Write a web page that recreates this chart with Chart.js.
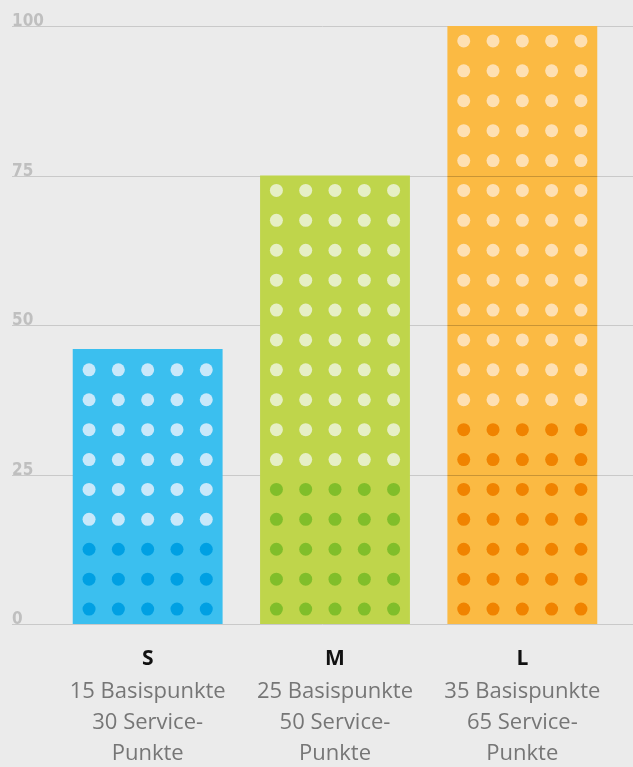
<!DOCTYPE html>
<html>
<head>
<meta charset="utf-8">
<script src="https://cdn.jsdelivr.net/npm/chart.js@4"></script>
<style>
  html, body { margin: 0; padding: 0; background: #ebebeb; }
  #wrap { width: 633px; height: 767px; }
</style>
</head>
<body>
<div id="wrap"><canvas id="chart" width="633" height="767"></canvas></div>
<script>
// data
const packages = ["S", "M", "L"];
const basisPoints = [15, 25, 35];
const servicePoints = [30, 50, 65];
const barValues = [46, 75, 100];
const yTicks = [0, 25, 50, 75, 100];

const barColors = ["#3bbfef", "#bfd54b", "#fbba43"];
const basisDotColors = ["#00a0e3", "#80be2a", "#f08300"];
const serviceDotColors = ["#c9e8fa", "#e6efc5", "#fee0b3"];

const descLines = packages.map((p, i) => [
  basisPoints[i] + " Basispunkte",
  servicePoints[i] + " Service-",
  "Punkte",
]);

// grid lines + y labels, drawn from the y scale, wider than the chart area
const gridPlugin = {
  id: "grid",
  beforeDatasetsDraw(chart) {
    const ctx = chart.ctx;
    const y = chart.scales.y;
    ctx.save();
    ctx.strokeStyle = "#c9c9c9";
    ctx.lineWidth = 1;
    ctx.fillStyle = "#bfbfbf";
    ctx.font = "bold 17px 'DejaVu Sans Condensed', 'DejaVu Sans'";
    ctx.textAlign = "left";
    ctx.textBaseline = "alphabetic";
    yTicks.forEach((v) => {
      const py = Math.round(y.getPixelForValue(v)) + 0.5;
      ctx.beginPath();
      ctx.moveTo(12, py);
      ctx.lineTo(chart.width, py);
      ctx.stroke();
      ctx.fillText(String(v), 12, py - 1);
    });
    ctx.restore();
  },
  afterDatasetsDraw(chart) {
    const ctx = chart.ctx;
    const y = chart.scales.y;
    const meta = chart.getDatasetMeta(0);
    const pitch = y.getPixelForValue(0) - y.getPixelForValue(5);
    ctx.save();
    meta.data.forEach((bar, i) => {
      // the full bar shows the grid through it
      if (barValues[i] >= 100) {
        ctx.strokeStyle = "rgba(0,0,0,0.2)";
        ctx.lineWidth = 1;
        yTicks.slice(1, -1).forEach((v) => {
          const py = Math.round(y.getPixelForValue(v)) + 0.5;
          ctx.beginPath();
          ctx.moveTo(bar.x - bar.width / 2, py);
          ctx.lineTo(bar.x + bar.width / 2, py);
          ctx.stroke();
        });
      }
      const rows = (basisPoints[i] + servicePoints[i]) / 5;
      const darkRows = basisPoints[i] / 5;
      for (let r = 0; r < rows; r++) {
        const py = y.getPixelForValue(r * 5 + 2.5);
        ctx.fillStyle = r < darkRows ? basisDotColors[i] : serviceDotColors[i];
        for (let c = 0; c < 5; c++) {
          const px = bar.x + (c - 2) * pitch * 0.98;
          ctx.beginPath();
          ctx.arc(px, py, 6.5, 0, Math.PI * 2);
          ctx.fill();
        }
      }
    });
    ctx.restore();
  },
};

const ctx = document.getElementById("chart").getContext("2d");
new Chart(ctx, {
  type: "bar",
  data: {
    labels: packages,
    datasets: [
      {
        data: barValues,
        backgroundColor: barColors,
        borderWidth: 0,
        xAxisID: "x",
        yAxisID: "y",
        categoryPercentage: 1,
        barPercentage: 0.8,
      },
    ],
  },
  options: {
    responsive: false,
    devicePixelRatio: 1,
    animation: false,
    layout: { padding: { top: 26, left: 54, right: 17, bottom: -4.5 } },
    plugins: { legend: { display: false }, tooltip: { enabled: false } },
    scales: {
      y: { display: false, min: 0, max: 100 },
      x: {
        type: "category",
        labels: packages,
        offset: true,
        // tick length is used as one-sided spacing (ticks are not drawn)
        grid: { display: false, drawTicks: true, tickLength: 19.5 },
        border: { display: false },
        ticks: {
          color: "#111111",
          padding: 0,
          maxRotation: 0,
          font: { family: "'Open Sans'", size: 21, weight: "bold", lineHeight: 1.476 },
        },
      },
      x2: {
        type: "category",
        position: "bottom",
        labels: descLines,
        offset: true,
        grid: { display: false, drawTicks: false },
        border: { display: false },
        ticks: {
          color: "#767676",
          padding: 2,
          maxRotation: 0,
          autoSkip: false,
          font: { family: "'Open Sans'", size: 22, weight: "normal", lineHeight: 1.409 },
        },
      },
    },
  },
  plugins: [gridPlugin],
});
</script>
</body>
</html>
